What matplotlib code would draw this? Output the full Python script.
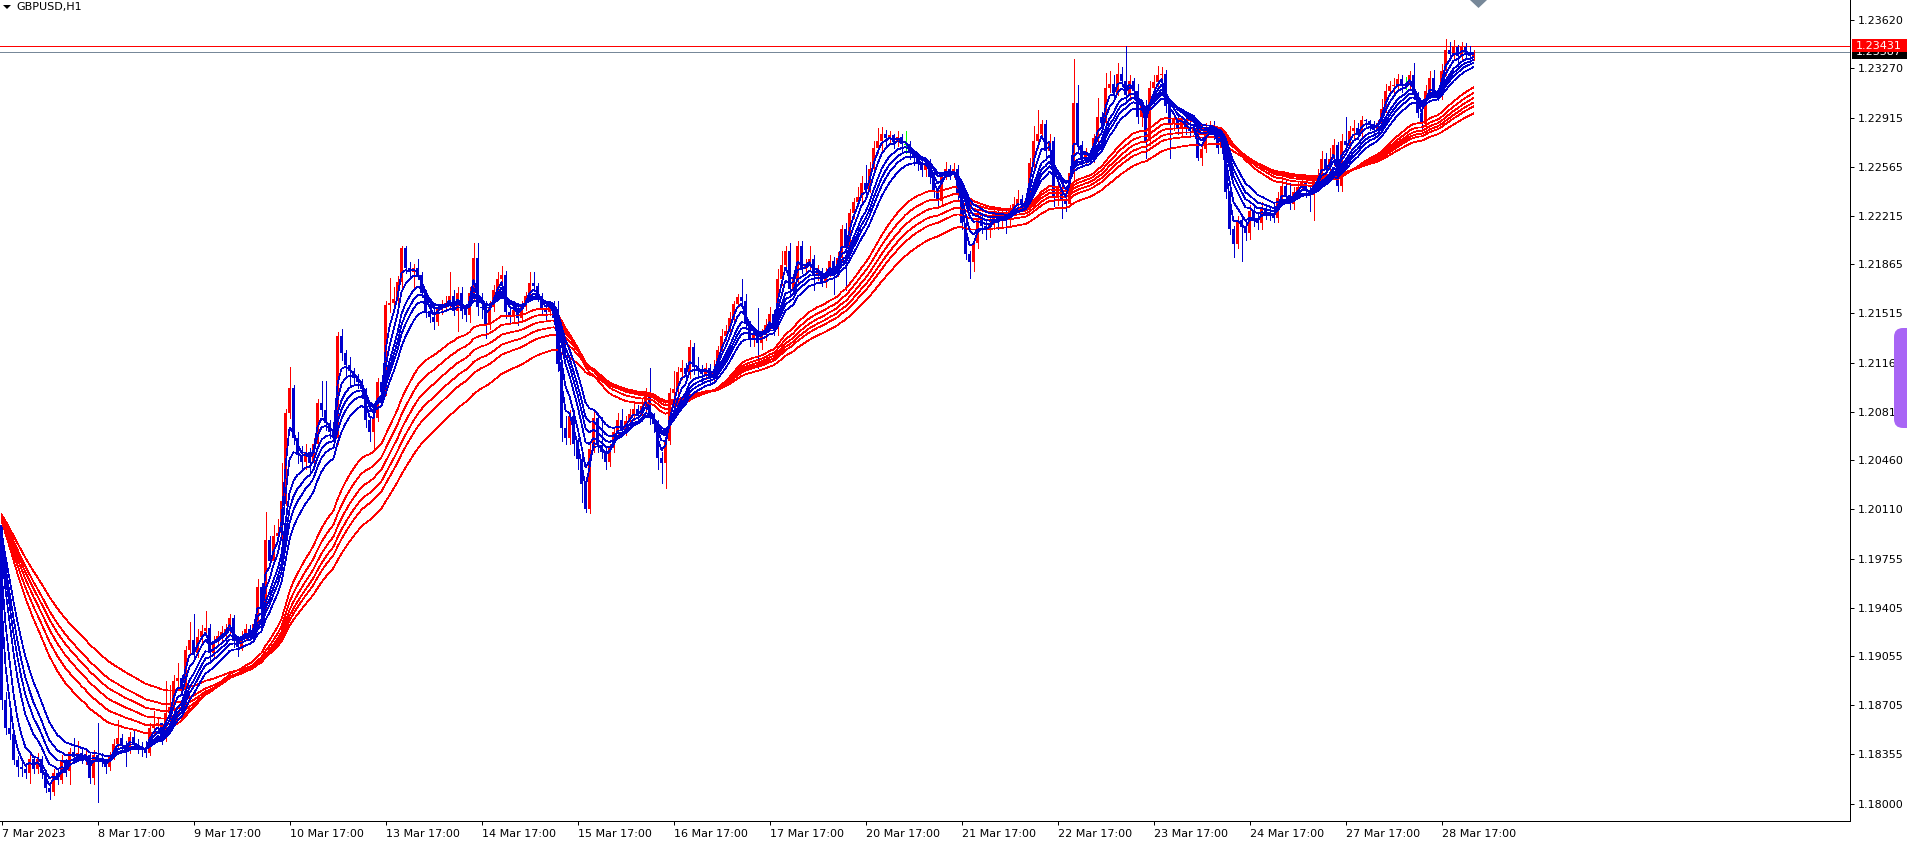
import numpy as np
import matplotlib
matplotlib.use("Agg")
import matplotlib.pyplot as plt
from matplotlib.patches import Rectangle, FancyBboxPatch, Polygon
from matplotlib.transforms import IdentityTransform

# ---- data (GBPUSD H1, first bar = 7 Mar 17:00) ----
symbol = "GBPUSD,H1"
first_open = 1.2000
ema_seed = 1.2012          # level of all averages just before the first bar
ask_price = 1.23431
bid_price = 1.23387

closes = [
    1.1874, 1.1854, 1.1850, 1.1831, 1.1826, 1.1825, 1.1822, 1.1832, 1.1825, 1.1832, 1.1822, 1.1811,
    1.1808, 1.1822, 1.1817, 1.1831, 1.1823, 1.1837, 1.1833, 1.1836, 1.1832, 1.1835, 1.1818, 1.1835,
    1.1832, 1.1830, 1.1826, 1.1834, 1.1843, 1.1847, 1.1842, 1.1838, 1.1848, 1.1843, 1.1840, 1.1838,
    1.1836, 1.1854, 1.1856, 1.1858, 1.1847, 1.1865, 1.1869, 1.1888, 1.1890, 1.1882, 1.1910, 1.1917,
    1.1908, 1.1919, 1.1924, 1.1926, 1.1908, 1.1916, 1.1920, 1.1923, 1.1925, 1.1933, 1.1917, 1.1912,
    1.1920, 1.1925, 1.1921, 1.1929, 1.1955, 1.1941, 1.1989, 1.1974, 1.1992, 1.1994, 1.2017, 1.2080,
    1.2098, 1.2062, 1.2050, 1.2045, 1.2052, 1.2044, 1.2058, 1.2087, 1.2082, 1.2073, 1.2066, 1.2062,
    1.2135, 1.2123, 1.2114, 1.2110, 1.2105, 1.2102, 1.2097, 1.2075, 1.2066, 1.2076, 1.2102, 1.2095,
    1.2157, 1.2159, 1.2162, 1.2174, 1.2198, 1.2184, 1.2181, 1.2184, 1.2179, 1.2166, 1.2153, 1.2149,
    1.2145, 1.2155, 1.2157, 1.2159, 1.2164, 1.2153, 1.2166, 1.2153, 1.2150, 1.2166, 1.2191, 1.2156,
    1.2155, 1.2143, 1.2156, 1.2168, 1.2176, 1.2179, 1.2152, 1.2149, 1.2154, 1.2148, 1.2156, 1.2164,
    1.2173, 1.2171, 1.2164, 1.2155, 1.2152, 1.2157, 1.2148, 1.2115, 1.2069, 1.2062, 1.2078, 1.2058,
    1.2047, 1.2029, 1.2011, 1.2054, 1.2076, 1.2057, 1.2052, 1.2045, 1.2055, 1.2066, 1.2075, 1.2068,
    1.2074, 1.2079, 1.2083, 1.2078, 1.2085, 1.2094, 1.2076, 1.2072, 1.2048, 1.2044, 1.2060, 1.2094,
    1.2097, 1.2109, 1.2112, 1.2108, 1.2127, 1.2113, 1.2110, 1.2108, 1.2112, 1.2106, 1.2110, 1.2125,
    1.2135, 1.2139, 1.2148, 1.2158, 1.2163, 1.2160, 1.2144, 1.2133, 1.2136, 1.2130, 1.2136, 1.2143,
    1.2151, 1.2140, 1.2176, 1.2186, 1.2196, 1.2169, 1.2176, 1.2200, 1.2184, 1.2186, 1.2190, 1.2178,
    1.2182, 1.2173, 1.2180, 1.2189, 1.2180, 1.2191, 1.2212, 1.2198, 1.2223, 1.2231, 1.2235, 1.2245,
    1.2240, 1.2255, 1.2270, 1.2275, 1.2280, 1.2277, 1.2279, 1.2274, 1.2278, 1.2273, 1.2273, 1.2266,
    1.2263, 1.2259, 1.2254, 1.2259, 1.2249, 1.2239, 1.2232, 1.2250, 1.2255, 1.2252, 1.2255, 1.2237,
    1.2216, 1.2194, 1.2188, 1.2202, 1.2218, 1.2214, 1.2212, 1.2215, 1.2223, 1.2218, 1.2223, 1.2218,
    1.2225, 1.2230, 1.2233, 1.2229, 1.2232, 1.2259, 1.2275, 1.2280, 1.2287, 1.2268, 1.2275, 1.2234,
    1.2241, 1.2232, 1.2230, 1.2252, 1.2302, 1.2272, 1.2263, 1.2266, 1.2263, 1.2277, 1.2292, 1.2288,
    1.2313, 1.2316, 1.2309, 1.2323, 1.2318, 1.2308, 1.2318, 1.2311, 1.2292, 1.2300, 1.2275, 1.2313,
    1.2317, 1.2322, 1.2323, 1.2300, 1.2288, 1.2291, 1.2284, 1.2289, 1.2284, 1.2282, 1.2285, 1.2263,
    1.2269, 1.2282, 1.2285, 1.2280, 1.2270, 1.2274, 1.2238, 1.2212, 1.2201, 1.2218, 1.2213, 1.2209,
    1.2225, 1.2218, 1.2216, 1.2227, 1.2223, 1.2222, 1.2220, 1.2234, 1.2243, 1.2236, 1.2230, 1.2238,
    1.2242, 1.2246, 1.2239, 1.2236, 1.2246, 1.2250, 1.2262, 1.2255, 1.2262, 1.2272, 1.2243, 1.2275,
    1.2272, 1.2282, 1.2284, 1.2280, 1.2290, 1.2289, 1.2287, 1.2283, 1.2288, 1.2298, 1.2311, 1.2314,
    1.2315, 1.2319, 1.2315, 1.2315, 1.2322, 1.2309, 1.2295, 1.2287, 1.2311, 1.2320, 1.2311, 1.2307,
    1.2325, 1.2340, 1.2337, 1.2342, 1.2336, 1.2342, 1.2339, 1.2336, 1.23387,
]

highs = [
    1.2003, 1.1880, 1.1866, 1.1851, 1.1834, 1.1830, 1.1828, 1.1835, 1.1834, 1.1836, 1.1834, 1.1824,
    1.1815, 1.1825, 1.1824, 1.1835, 1.1832, 1.1840, 1.1847, 1.1845, 1.1840, 1.1838, 1.1837, 1.1838,
    1.1858, 1.1836, 1.1832, 1.1837, 1.1846, 1.1860, 1.1850, 1.1845, 1.1851, 1.1853, 1.1846, 1.1844,
    1.1845, 1.1858, 1.1866, 1.1862, 1.1858, 1.1888, 1.1885, 1.1892, 1.1901, 1.1892, 1.1913, 1.1930,
    1.1936, 1.1925, 1.1928, 1.1938, 1.1929, 1.1920, 1.1924, 1.1927, 1.1929, 1.1936, 1.1935, 1.1920,
    1.1924, 1.1929, 1.1928, 1.1932, 1.1961, 1.1958, 1.2009, 1.1992, 1.2000, 1.2004, 1.2044, 1.2083,
    1.2113, 1.2100, 1.2066, 1.2056, 1.2058, 1.2055, 1.2062, 1.2090, 1.2103, 1.2103, 1.2075, 1.2080,
    1.2138, 1.2140, 1.2125, 1.2120, 1.2112, 1.2108, 1.2104, 1.2098, 1.2078, 1.2080, 1.2105, 1.2106,
    1.2160, 1.2177, 1.2170, 1.2178, 1.2200, 1.2200, 1.2188, 1.2187, 1.2190, 1.2181, 1.2168, 1.2160,
    1.2155, 1.2158, 1.2161, 1.2164, 1.2181, 1.2168, 1.2170, 1.2170, 1.2156, 1.2170, 1.2202, 1.2202,
    1.2166, 1.2160, 1.2160, 1.2172, 1.2181, 1.2185, 1.2182, 1.2155, 1.2158, 1.2156, 1.2160, 1.2167,
    1.2181, 1.2181, 1.2173, 1.2166, 1.2160, 1.2160, 1.2160, 1.2160, 1.2118, 1.2078, 1.2082, 1.2082,
    1.2062, 1.2050, 1.2030, 1.2058, 1.2083, 1.2080, 1.2077, 1.2055, 1.2058, 1.2070, 1.2080, 1.2083,
    1.2078, 1.2083, 1.2088, 1.2086, 1.2090, 1.2098, 1.2112, 1.2080, 1.2075, 1.2052, 1.2064, 1.2098,
    1.2110, 1.2113, 1.2118, 1.2116, 1.2132, 1.2130, 1.2120, 1.2114, 1.2116, 1.2115, 1.2118, 1.2128,
    1.2140, 1.2143, 1.2152, 1.2160, 1.2165, 1.2176, 1.2165, 1.2146, 1.2140, 1.2155, 1.2140, 1.2147,
    1.2156, 1.2154, 1.2183, 1.2196, 1.2200, 1.2202, 1.2180, 1.2203, 1.2203, 1.2190, 1.2200, 1.2193,
    1.2186, 1.2184, 1.2184, 1.2193, 1.2192, 1.2195, 1.2215, 1.2216, 1.2226, 1.2234, 1.2242, 1.2250,
    1.2258, 1.2260, 1.2275, 1.2284, 1.2285, 1.2283, 1.2282, 1.2280, 1.2282, 1.2280, 1.2282, 1.2275,
    1.2268, 1.2266, 1.2262, 1.2262, 1.2262, 1.2253, 1.2243, 1.2253, 1.2260, 1.2258, 1.2259, 1.2258,
    1.2240, 1.2218, 1.2196, 1.2205, 1.2222, 1.2222, 1.2218, 1.2220, 1.2227, 1.2226, 1.2227, 1.2225,
    1.2229, 1.2235, 1.2240, 1.2236, 1.2236, 1.2263, 1.2286, 1.2297, 1.2290, 1.2290, 1.2280, 1.2278,
    1.2245, 1.2248, 1.2243, 1.2256, 1.2334, 1.2315, 1.2275, 1.2270, 1.2268, 1.2280, 1.2306, 1.2296,
    1.2324, 1.2325, 1.2322, 1.2331, 1.2328, 1.2343, 1.2322, 1.2320, 1.2316, 1.2304, 1.2304, 1.2318,
    1.2322, 1.2329, 1.2328, 1.2326, 1.2303, 1.2295, 1.2295, 1.2292, 1.2292, 1.2290, 1.2290, 1.2287,
    1.2272, 1.2288, 1.2289, 1.2289, 1.2285, 1.2278, 1.2276, 1.2240, 1.2214, 1.2221, 1.2222, 1.2218,
    1.2229, 1.2230, 1.2224, 1.2231, 1.2230, 1.2228, 1.2230, 1.2238, 1.2250, 1.2248, 1.2245, 1.2242,
    1.2246, 1.2250, 1.2250, 1.2243, 1.2250, 1.2255, 1.2268, 1.2266, 1.2270, 1.2276, 1.2274, 1.2280,
    1.2292, 1.2286, 1.2290, 1.2288, 1.2293, 1.2291, 1.2290, 1.2289, 1.2290, 1.2305, 1.2316, 1.2318,
    1.2320, 1.2323, 1.2322, 1.2321, 1.2325, 1.2331, 1.2310, 1.2298, 1.2315, 1.2325, 1.2326, 1.2313,
    1.2330, 1.2348, 1.2346, 1.2347, 1.2344, 1.2346, 1.2345, 1.2343, 1.2340,
]

lows = [
    1.1868, 1.1850, 1.1846, 1.1828, 1.1820, 1.1820, 1.1818, 1.1815, 1.1822, 1.1822, 1.1818, 1.1808,
    1.1803, 1.1806, 1.1814, 1.1815, 1.1820, 1.1814, 1.1830, 1.1831, 1.1829, 1.1828, 1.1815, 1.1814,
    1.1801, 1.1827, 1.1822, 1.1824, 1.1832, 1.1840, 1.1839, 1.1827, 1.1836, 1.1840, 1.1836, 1.1834,
    1.1833, 1.1835, 1.1850, 1.1852, 1.1843, 1.1845, 1.1860, 1.1866, 1.1884, 1.1878, 1.1880, 1.1908,
    1.1904, 1.1905, 1.1915, 1.1921, 1.1903, 1.1905, 1.1914, 1.1917, 1.1920, 1.1922, 1.1912, 1.1906,
    1.1910, 1.1918, 1.1917, 1.1919, 1.1925, 1.1937, 1.1938, 1.1970, 1.1972, 1.1988, 1.1990, 1.2014,
    1.2076, 1.2058, 1.2044, 1.2038, 1.2040, 1.2036, 1.2040, 1.2058, 1.2078, 1.2068, 1.2062, 1.2058,
    1.2058, 1.2118, 1.2105, 1.2100, 1.2100, 1.2098, 1.2092, 1.2070, 1.2060, 1.2055, 1.2074, 1.2090,
    1.2093, 1.2152, 1.2154, 1.2155, 1.2170, 1.2180, 1.2176, 1.2168, 1.2176, 1.2163, 1.2149, 1.2145,
    1.2140, 1.2143, 1.2151, 1.2153, 1.2156, 1.2150, 1.2139, 1.2148, 1.2146, 1.2145, 1.2160, 1.2150,
    1.2148, 1.2134, 1.2140, 1.2153, 1.2166, 1.2174, 1.2148, 1.2144, 1.2146, 1.2143, 1.2146, 1.2154,
    1.2162, 1.2168, 1.2160, 1.2151, 1.2146, 1.2150, 1.2144, 1.2110, 1.2060, 1.2058, 1.2058, 1.2050,
    1.2040, 1.2016, 1.2009, 1.2008, 1.2052, 1.2052, 1.2048, 1.2040, 1.2042, 1.2052, 1.2063, 1.2064,
    1.2064, 1.2071, 1.2075, 1.2073, 1.2076, 1.2080, 1.2072, 1.2066, 1.2040, 1.2030, 1.2026, 1.2058,
    1.2088, 1.2092, 1.2104, 1.2103, 1.2105, 1.2108, 1.2105, 1.2102, 1.2104, 1.2100, 1.2103, 1.2108,
    1.2122, 1.2132, 1.2137, 1.2146, 1.2156, 1.2155, 1.2140, 1.2128, 1.2128, 1.2112, 1.2126, 1.2132,
    1.2140, 1.2136, 1.2136, 1.2172, 1.2183, 1.2164, 1.2167, 1.2172, 1.2180, 1.2180, 1.2183, 1.2168,
    1.2175, 1.2171, 1.2170, 1.2178, 1.2165, 1.2178, 1.2188, 1.2168, 1.2196, 1.2220, 1.2228, 1.2229,
    1.2235, 1.2238, 1.2253, 1.2266, 1.2268, 1.2272, 1.2274, 1.2270, 1.2271, 1.2268, 1.2266, 1.2262,
    1.2258, 1.2254, 1.2250, 1.2250, 1.2245, 1.2235, 1.2228, 1.2230, 1.2248, 1.2248, 1.2249, 1.2233,
    1.2212, 1.2190, 1.2177, 1.2182, 1.2198, 1.2209, 1.2205, 1.2206, 1.2212, 1.2212, 1.2214, 1.2209,
    1.2214, 1.2222, 1.2227, 1.2225, 1.2226, 1.2228, 1.2256, 1.2270, 1.2277, 1.2264, 1.2262, 1.2228,
    1.2229, 1.2220, 1.2225, 1.2228, 1.2248, 1.2268, 1.2258, 1.2258, 1.2259, 1.2260, 1.2275, 1.2283,
    1.2286, 1.2310, 1.2304, 1.2308, 1.2314, 1.2304, 1.2304, 1.2307, 1.2288, 1.2286, 1.2263, 1.2272,
    1.2310, 1.2314, 1.2318, 1.2296, 1.2263, 1.2283, 1.2280, 1.2279, 1.2280, 1.2278, 1.2280, 1.2261,
    1.2258, 1.2267, 1.2280, 1.2276, 1.2266, 1.2266, 1.2234, 1.2208, 1.2192, 1.2198, 1.2189, 1.2204,
    1.2205, 1.2214, 1.2212, 1.2212, 1.2219, 1.2218, 1.2217, 1.2217, 1.2230, 1.2232, 1.2226, 1.2226,
    1.2236, 1.2240, 1.2235, 1.2225, 1.2218, 1.2242, 1.2245, 1.2250, 1.2252, 1.2258, 1.2239, 1.2239,
    1.2268, 1.2270, 1.2276, 1.2276, 1.2278, 1.2285, 1.2283, 1.2279, 1.2280, 1.2286, 1.2296, 1.2308,
    1.2310, 1.2312, 1.2310, 1.2312, 1.2312, 1.2305, 1.2292, 1.2282, 1.2282, 1.2308, 1.2308, 1.2304,
    1.2305, 1.2322, 1.2333, 1.2333, 1.2329, 1.2334, 1.2335, 1.2331, 1.2333,
]

short_periods = [3, 5, 8, 10, 12, 15]
long_periods = [30, 35, 40, 45, 50, 60]

price_ticks = [1.23620, 1.23270, 1.22915, 1.22565, 1.22215, 1.21865, 1.21515, 1.21160,
               1.20810, 1.20460, 1.20110, 1.19755, 1.19405, 1.19055, 1.18705, 1.18355, 1.18000]
time_ticks = [0, 24, 48, 72, 96, 120, 144, 168, 192, 216, 240, 264, 288, 312, 336, 360]
time_labels = ["7 Mar 2023", "8 Mar 17:00", "9 Mar 17:00", "10 Mar 17:00", "13 Mar 17:00",
               "14 Mar 17:00", "15 Mar 17:00", "16 Mar 17:00", "17 Mar 17:00", "20 Mar 17:00",
               "21 Mar 17:00", "22 Mar 17:00", "23 Mar 17:00", "24 Mar 17:00", "27 Mar 17:00",
               "28 Mar 17:00"]

BULL = "#FF0000"
BEAR = "#0000CD"
DOJI = "#00FF00"
GRID_GRAY = "#778899"

W, H = 1907, 849
PLOT_W, PLOT_H = 1850, 821


def ema(values, period, seed):
    a = 2.0 / (period + 1)
    out, e = [], seed
    for v in values:
        e = e + a * (v - e)
        out.append(e)
    return np.array(out)


c = np.array(closes)
hi = np.array(highs)
lo = np.array(lows)
o = np.concatenate([[first_open], c[:-1]])
x = np.arange(len(c))

fig = plt.figure(figsize=(W / 100, H / 100), dpi=100)
fig.patch.set_facecolor("white")
ax = fig.add_axes([0, (H - PLOT_H) / H, PLOT_W / W, PLOT_H / H])

# 4 px per bar, bar centre on pixel 4*i + 1.5 ; 13950 px per 1.0 of price
px_per_price = 13950.0
ax.set_xlim(-1.5 / 4, (PLOT_W - 1.5) / 4)
ax.set_ylim(1.18 - (PLOT_H - 803.5) / px_per_price, 1.18 + 803.5 / px_per_price)

lw1 = 0.72   # one pixel for spines / ticks
lwl = 0.5    # thin aliased chart lines
min_body = 0.8 / px_per_price

up = c > o
dn = c < o
dj = c == o
for mask, col in ((up, BULL), (dn, BEAR)):
    ax.vlines(x[mask], lo[mask], hi[mask], color=col, lw=lwl, antialiased=False, zorder=2)
    bottoms = np.minimum(o[mask], c[mask])
    heights = np.maximum(np.abs(c[mask] - o[mask]), min_body)
    ax.bar(x[mask], heights, bottom=bottoms, width=0.75, color=col, linewidth=0,
           antialiased=False, zorder=2)
ax.vlines(x[dj], lo[dj], hi[dj], color=DOJI, lw=lwl, antialiased=False, zorder=2)
ax.hlines(c[dj], x[dj] - 0.375, x[dj] + 0.375, color=DOJI, lw=lwl, antialiased=False, zorder=2)

for p in long_periods:
    ax.plot(x, ema(closes, p, ema_seed), color=BULL, lw=lwl, antialiased=False, zorder=3)
for p in short_periods:
    ax.plot(x, ema(closes, p, ema_seed), color=BEAR, lw=lwl, antialiased=False, zorder=3)

ax.axhline(ask_price, color=BULL, lw=lwl, antialiased=False, zorder=1)
ax.axhline(bid_price, color=GRID_GRAY, lw=lwl, antialiased=False, zorder=1)

for side in ("left", "top"):
    ax.spines[side].set_visible(False)
for side in ("right", "bottom"):
    ax.spines[side].set_color("black")
    ax.spines[side].set_linewidth(lw1)

ax.yaxis.tick_right()
ax.set_yticks(price_ticks)
ax.set_yticklabels([f"{p:.5f}" for p in price_ticks])
ax.set_xticks(time_ticks)
ax.set_xticklabels(time_labels)
for lab in ax.get_xticklabels():
    lab.set_horizontalalignment("left")
ax.tick_params(axis="y", direction="out", length=3, width=lw1, pad=2.5, labelsize=8,
               colors="black")
ax.tick_params(axis="x", direction="out", length=3, width=lw1, pad=3, labelsize=8,
               colors="black")

# ---- overlays drawn in pixel coordinates ----
px = IdentityTransform()


def price_to_px(p):
    return ax.transData.transform((0, p))[1]


y_bid = price_to_px(bid_price)
y_ask = price_to_px(ask_price)
bid_box = Rectangle((1852, y_bid - 6.5), 60, 13, transform=px, facecolor="black",
                    edgecolor="none", zorder=8)
fig.add_artist(bid_box)
# bid label sits under the ask label, only its lower part stays visible
bid_clip = Rectangle((1852, y_bid - 6.5), 60, 6.5, transform=px, facecolor="none",
                     edgecolor="none")
bid_txt = fig.text(1856, y_bid, f"{bid_price:.5f}", transform=px, color="white", fontsize=8,
                   va="center", ha="left", zorder=9)
bid_txt.set_clip_path(bid_clip)
fig.add_artist(Rectangle((1852, y_ask - 6.5), 60, 13, transform=px, facecolor=BULL,
                         edgecolor="none", zorder=10))
fig.text(1856, y_ask, f"{ask_price:.5f}", transform=px, color="white", fontsize=8,
         va="center", ha="left", zorder=11)

# right-edge widget
fig.add_artist(FancyBboxPatch((1894, H - 428), 40, 100, transform=px,
                              boxstyle="round,pad=0,rounding_size=9",
                              facecolor="#A865F5", edgecolor="none", zorder=12))
# chart shift marker
fig.add_artist(Polygon([(1470, H), (1487, H), (1478.5, H - 8)], closed=True, transform=px,
                       facecolor=GRID_GRAY, edgecolor="none", zorder=12))
# title with drop-down triangle
fig.add_artist(Polygon([(3, H - 5), (11, H - 5), (7, H - 9)], closed=True, transform=px,
                       facecolor="black", edgecolor="none", zorder=12))
fig.text(16, H - 7, symbol, transform=px, fontsize=8, va="center", ha="left", zorder=12)

fig.savefig("out.png", dpi=100, facecolor="white")
